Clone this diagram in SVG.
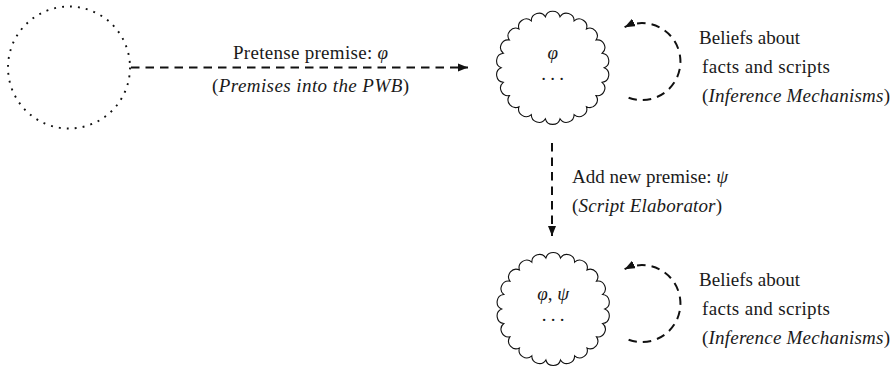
<svg xmlns="http://www.w3.org/2000/svg" width="892" height="367" viewBox="0 0 892 367">
<style>
  .txt { font-family: "Liberation Serif", "DejaVu Serif", serif; font-size: 19px; fill: #1a1a1a; }
  .it { font-style: italic; }
  .cloud { fill: none; stroke: #111; stroke-width: 1.1; }
  .dash { fill: none; stroke: #111; stroke-width: 2; stroke-dasharray: 8.5 6; }
  .dots { fill: none; stroke: #111; stroke-width: 1.9; stroke-dasharray: 1.9 6.1; }
  .ell { letter-spacing: 4.3px; }
</style>
<defs>
  <marker id="head" viewBox="0 0 10 8" refX="10" refY="4" markerUnits="userSpaceOnUse" markerWidth="10.5" markerHeight="8.5" orient="auto">
    <path d="M0,0 L10,4 L0,8 Z" fill="#111"/>
  </marker>
  <path id="cloud" d="M51.5,0 A7.6 7.6 0 0 1 49.41,14.51 A7.6 7.6 0 0 1 43.32,27.84 A7.6 7.6 0 0 1 33.73,38.92 A7.6 7.6 0 0 1 21.39,46.85 A7.6 7.6 0 0 1 7.33,50.98 A7.6 7.6 0 0 1 -7.33,50.98 A7.6 7.6 0 0 1 -21.39,46.85 A7.6 7.6 0 0 1 -33.73,38.92 A7.6 7.6 0 0 1 -43.32,27.84 A7.6 7.6 0 0 1 -49.41,14.51 A7.6 7.6 0 0 1 -51.5,0 A7.6 7.6 0 0 1 -49.41,-14.51 A7.6 7.6 0 0 1 -43.32,-27.84 A7.6 7.6 0 0 1 -33.73,-38.92 A7.6 7.6 0 0 1 -21.39,-46.85 A7.6 7.6 0 0 1 -7.33,-50.98 A7.6 7.6 0 0 1 7.33,-50.98 A7.6 7.6 0 0 1 21.39,-46.85 A7.6 7.6 0 0 1 33.73,-38.92 A7.6 7.6 0 0 1 43.32,-27.84 A7.6 7.6 0 0 1 49.41,-14.51 A7.6 7.6 0 0 1 51.5,0 Z"/>
</defs>

<g id="node-source">
  <circle class="dots" cx="69" cy="67.5" r="61"/>
</g>

<g id="node-pwb1">
  <use href="#cloud" class="cloud" x="552.7" y="67.8"/>
  <text class="txt it" x="552.7" y="58.5" text-anchor="middle">φ</text>
  <text class="txt ell" x="541.2" y="80">...</text>
</g>

<g id="node-pwb2">
  <use href="#cloud" class="cloud" x="553.2" y="309"/>
  <text class="txt" x="553.2" y="300" text-anchor="middle"><tspan class="it">φ</tspan>, <tspan class="it">ψ</tspan></text>
  <text class="txt ell" x="541.7" y="321.2">...</text>
</g>

<g id="connectors">
  <path class="dash" d="M131,67.5 L468,67.5" marker-end="url(#head)"/>
  <path class="dash" d="M552,143 L552,236" marker-end="url(#head)"/>
  <path class="dash" d="M628.6,97.7 A38.5 38.5 0 1 0 624.6,27.2" marker-end="url(#head)"/>
  <path class="dash" d="M628.6,339.7 A38.5 38.5 0 1 0 624.6,269.2" marker-end="url(#head)"/>
</g>

<g id="labels">
  <text class="txt" x="233" y="59" textLength="155">Pretense premise: <tspan class="it">φ</tspan></text>
  <text class="txt" x="212" y="92" textLength="197">(<tspan class="it">Premises into the PWB</tspan>)</text>
  <text class="txt" x="572" y="183" textLength="156">Add new premise: <tspan class="it">ψ</tspan></text>
  <text class="txt" x="572" y="211.5" textLength="150">(<tspan class="it">Script Elaborator</tspan>)</text>
  <text class="txt" x="699" y="44" textLength="101">Beliefs about</text>
  <text class="txt" x="702" y="73" textLength="128">facts and scripts</text>
  <text class="txt" x="702" y="102" textLength="188">(<tspan class="it">Inference Mechanisms</tspan>)</text>
  <text class="txt" x="699" y="286" textLength="101">Beliefs about</text>
  <text class="txt" x="702" y="315" textLength="128">facts and scripts</text>
  <text class="txt" x="702" y="344" textLength="188">(<tspan class="it">Inference Mechanisms</tspan>)</text>
</g>
</svg>
